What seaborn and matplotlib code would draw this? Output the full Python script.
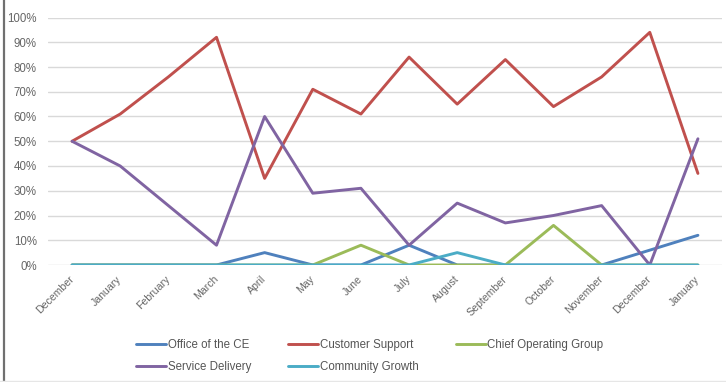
import matplotlib
matplotlib.use("Agg")
import matplotlib.pyplot as plt
from matplotlib.lines import Line2D
import numpy as np
import pandas as pd
import seaborn as sns

# Month labels along the x axis (the period spans December to the following January)
months = ["December", "January", "February", "March", "April", "May", "June",
          "July", "August", "September", "October", "November", "December", "January"]

# Share of items per group, in percent
office_of_the_ce = [0, 0, 0, 0, 5, 0, 0, 8, 0, 0, 0, 0, 6, 12]
customer_support = [50, 61, 76, 92, 35, 71, 61, 84, 65, 83, 64, 76, 94, 37]
chief_operating_group = [0, 0, 0, 0, 0, 0, 8, 0, 0, 0, 16, 0, 0, 0]
service_delivery = [50, 40, 24, 8, 60, 29, 31, 8, 25, 17, 20, 24, 0, 51]
community_growth = [0, 0, 0, 0, 0, 0, 0, 0, 5, 0, 0, 0, 0, 0]

series_names = ["Office of the CE", "Customer Support", "Chief Operating Group",
                "Service Delivery", "Community Growth"]
series_values = [office_of_the_ce, customer_support, chief_operating_group,
                 service_delivery, community_growth]
series_colors = ["#4F81BD", "#C0504D", "#9BBB59", "#8064A2", "#4BACC6"]

rows = []
for name, vals in zip(series_names, series_values):
    for i, v in enumerate(vals):
        rows.append({"pos": i, "share": v / 100.0, "group": name})
df = pd.DataFrame(rows)

sns.set_theme(style="white")
plt.rcParams["font.family"] = ["Liberation Sans", "DejaVu Sans"]

fig = plt.figure(figsize=(7.26, 3.82), dpi=100)
ax = fig.add_axes([48 / 726, 1 - 265 / 382, (722 - 48) / 726, (265 - 17.5) / 382])

sns.lineplot(data=df, x="pos", y="share", hue="group", hue_order=series_names,
             palette=series_colors, linewidth=2.1, sort=False, ax=ax,
             estimator=None, legend=True)

ax.set_xlim(-0.5, len(months) - 0.5)
ax.set_ylim(0, 1.0)
yt = np.arange(0, 1.01, 0.1)
ax.set_yticks(yt)
ax.set_yticklabels([f"{int(round(t * 100))}%" for t in yt],
                   fontsize=8.3, color="#666666")
ax.set_xticks(range(len(months)))
ax.set_xticklabels(months, rotation=45, ha="right", va="center",
                   rotation_mode="anchor", fontsize=7.6, color="#666666")
ax.tick_params(axis="x", length=0, pad=9)
ax.tick_params(axis="y", length=0, pad=8)
ax.set_xlabel("")
ax.set_ylabel("")
ax.grid(axis="y", color="#D9D9D9", linewidth=1)
ax.set_axisbelow(True)
for s in ax.spines.values():
    s.set_visible(False)

# Legend laid out row by row: three entries on top, two below
handles, labels = ax.get_legend_handles_labels()
ax.get_legend().remove()
lookup = dict(zip(labels, handles))
legend_order = ["Office of the CE", "Service Delivery", "Customer Support",
                "Community Growth", "Chief Operating Group"]
leg = fig.legend([lookup[n] for n in legend_order], legend_order, ncol=3,
                 loc="center", bbox_to_anchor=(370 / 726, 1 - 356 / 382),
                 frameon=False, fontsize=8.3, handlelength=2.6, handletextpad=0.15,
                 columnspacing=3.2, labelspacing=0.85)
for t in leg.get_texts():
    t.set_color("#555555")
for h in leg.legend_handles:
    h.set_linewidth(2.1)

# Outer frame edges of the chart area
fig.add_artist(Line2D([4 / 726, 4 / 726], [0, 1], color="#707070", linewidth=1.6,
                      transform=fig.transFigure))
fig.add_artist(Line2D([0, 1], [1.5 / 382, 1.5 / 382], color="#E6E6E6", linewidth=1,
                      transform=fig.transFigure))

fig.savefig("out.png", dpi=100)
